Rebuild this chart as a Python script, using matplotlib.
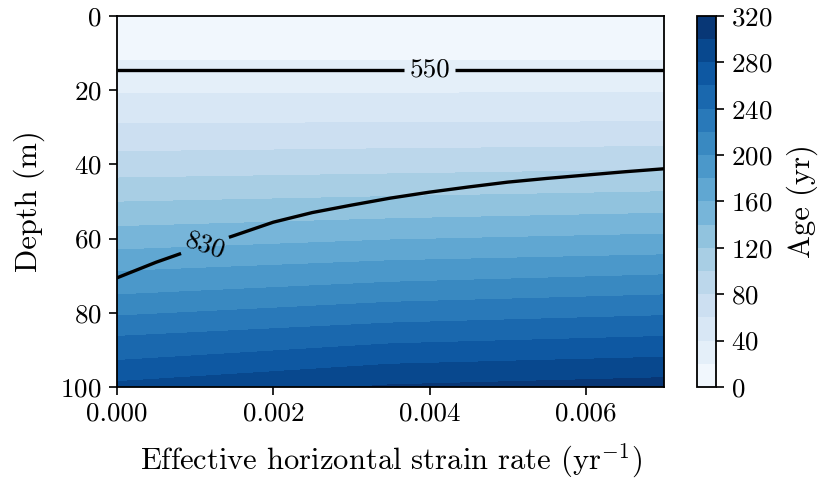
import numpy as np
import matplotlib
matplotlib.use("Agg")
import matplotlib.pyplot as plt
from matplotlib.ticker import FormatStrFormatter

# Wartości
strain = [0.0, 0.0035, 0.007]                 # kolumny (yr^-1)
ages = [0, 20, 40, 60, 80, 100, 120, 140, 160, 180, 200, 220, 240, 260, 280]
# głębokość (m) izolinii wieku dla każdej kolumny
depth_age_0 = [0, 12.0, 20.8, 29.0, 36.6, 43.7, 50.2, 56.8, 63.1, 68.9, 75.2, 80.9, 86.4, 92.9, 98.6]
depth_age_mid = [0, 11.9, 20.8, 28.8, 35.8, 42.6, 48.7, 54.7, 60.4, 66.0, 71.8, 77.2, 82.8, 88.4, 93.9]
depth_age_max = [0, 11.9, 20.7, 28.5, 35.2, 41.5, 47.4, 53.2, 58.8, 64.4, 69.8, 75.2, 80.8, 86.4, 92.0]
bottom_depth = 100
bottom_age = [285, 302, 309]

# kontury gęstości
dens_strain = [0.0, 0.0005, 0.001, 0.0015, 0.002, 0.0025, 0.003, 0.0035,
               0.004, 0.0045, 0.005, 0.0055, 0.006, 0.0065, 0.007]
dens_levels = [550, 830]
depth_550 = [14.5] * len(dens_strain)
depth_830 = [70.6, 66.4, 62.7, 59.2, 55.6, 53.0, 51.0, 49.1,
             47.5, 46.1, 44.8, 43.8, 42.9, 42.0, 41.2]
surface_density = 350
bottom_density = 880

plt.rcParams['font.family'] = 'serif'
plt.rcParams['font.serif'] = ['cmr10']
plt.rcParams['mathtext.fontset'] = 'cm'
plt.rcParams['axes.formatter.use_mathtext'] = True
plt.rcParams['font.size'] = 19.5

# siatka krzywoliniowa wieku
Y = np.column_stack([depth_age_0, depth_age_mid, depth_age_max])
Y = np.vstack([Y, np.full(len(strain), bottom_depth)])
Z = np.tile(np.array(ages, dtype=float)[:, None], (1, len(strain)))
Z = np.vstack([Z, bottom_age])
X = np.tile(strain, (Y.shape[0], 1))

# siatka gęstości
n = len(dens_strain)
DY = np.vstack([np.zeros(n), depth_550, depth_830, np.full(n, bottom_depth)])
DZ = np.vstack([np.full(n, surface_density), np.full(n, 550), np.full(n, 830),
                np.full(n, bottom_density)])
DX = np.tile(dens_strain, (4, 1))

fig = plt.figure(figsize=(8.24, 4.83), dpi=100)
ax = fig.add_axes([0.142, 0.199, 0.664, 0.768])
cax = fig.add_axes([0.846, 0.199, 0.023, 0.768])

levels = np.arange(0, 321, 20)
cf = ax.contourf(X, Y, Z, levels=levels, cmap='Blues')
cs = ax.contour(DX, DY, DZ, levels=dens_levels, colors='black', linewidths=2.4)
ax.clabel(cs, fmt='%d', inline=True, fontsize=19.5,
          manual=[(0.0040, 14.5), (0.00112, 61.5)])

ax.set_xlim(0, 0.007)
ax.set_ylim(100, 0)
ax.set_xticks([0, 0.002, 0.004, 0.006])
ax.xaxis.set_major_formatter(FormatStrFormatter('%.3f'))
ax.set_yticks([0, 20, 40, 60, 80, 100])
ax.set_xlabel(r"Effective horizontal strain rate (yr$^{-1}$)", fontsize=22, labelpad=11)
ax.set_ylabel("Depth (m)", fontsize=22, labelpad=11)
ax.tick_params(direction='out', length=6, width=1.2, pad=5)
for s in ax.spines.values():
    s.set_linewidth(1.3)

cbar = fig.colorbar(cf, cax=cax, ticks=np.arange(0, 321, 40))
cbar.set_label("Age (yr)", fontsize=22, labelpad=10)
cbar.outline.set_linewidth(1.3)
cbar.ax.tick_params(direction='out', length=6, width=1.2, pad=5)

fig.savefig("out.png", dpi=100)
